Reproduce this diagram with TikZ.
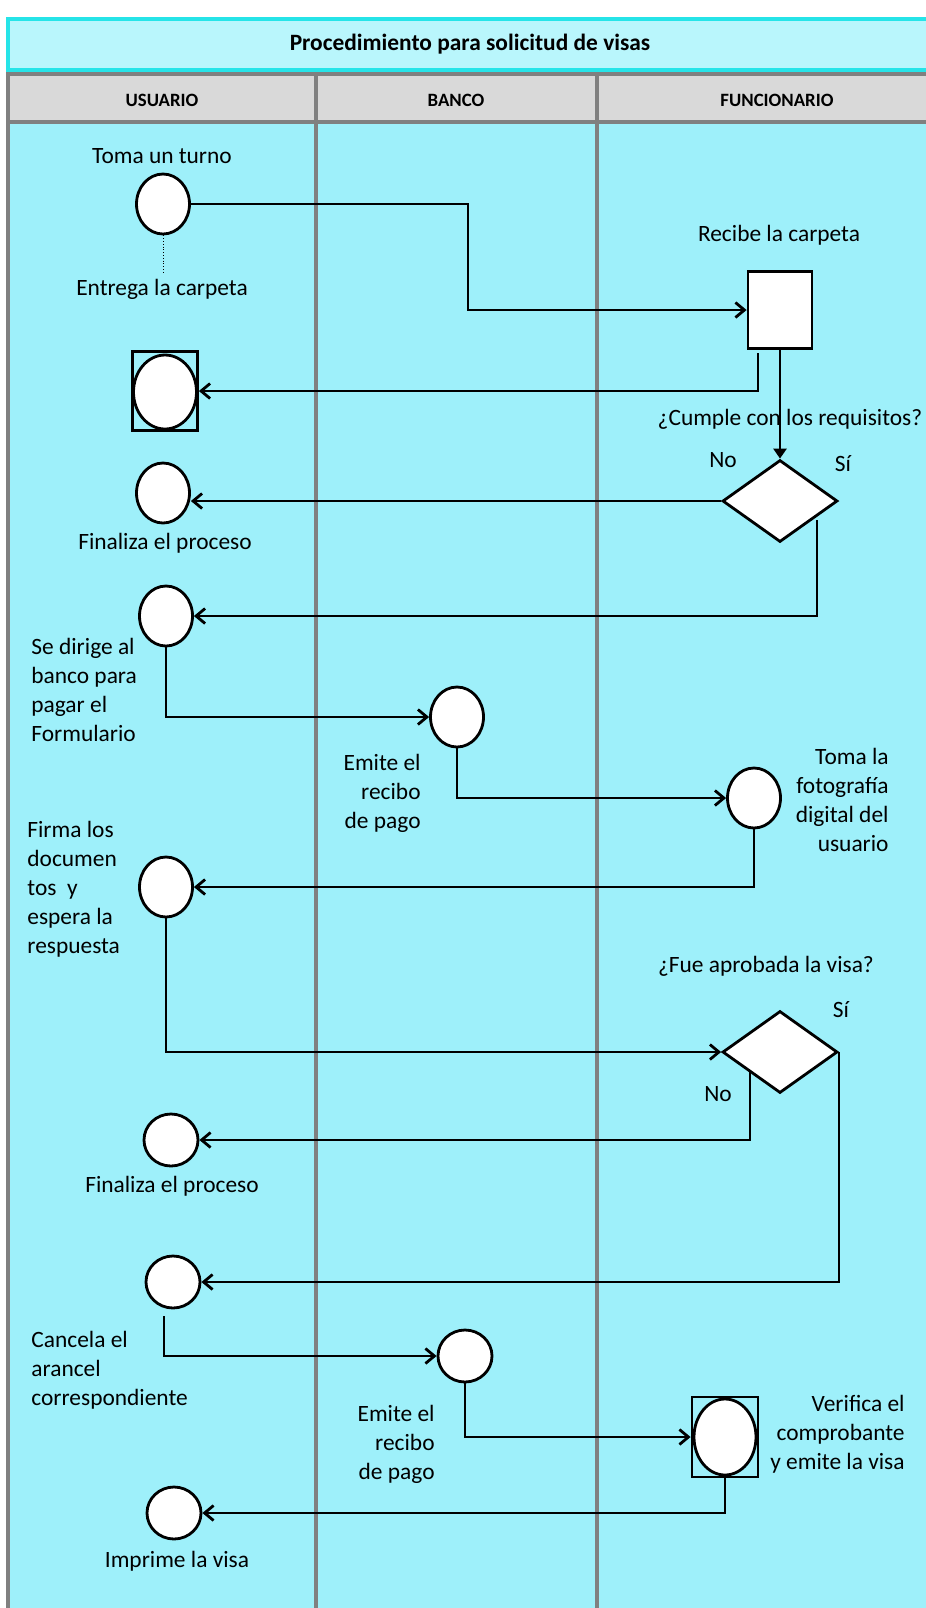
\documentclass[tikz,border=0pt]{standalone}
\usepackage{fontspec}
\setmainfont{Carlito}
\usetikzlibrary{shapes.geometric,arrows.meta}
\definecolor{lanecyan}{RGB}{158,240,250}
\definecolor{titlecyan}{RGB}{185,246,252}
\definecolor{titleline}{RGB}{38,228,232}
\definecolor{headgray}{RGB}{217,217,217}
\definecolor{lanegray}{RGB}{128,128,128}
\begin{document}
\begin{tikzpicture}[x=0.5pt,y=-0.5pt,
  act/.style={ellipse, draw, fill=white, line width=1.4pt, minimum width=26.5pt, minimum height=30pt, inner sep=0pt},
  actb/.style={act, minimum width=27pt, minimum height=26pt},
  doc/.style={rectangle, draw, fill=white, line width=1.4pt, minimum width=32pt, minimum height=38.5pt, inner sep=0pt},
  frame/.style={rectangle, draw, line width=1.4pt, minimum width=32.5pt, minimum height=39.5pt, inner sep=0pt},
  dec/.style={diamond, draw, fill=white, line width=1.4pt, minimum width=57.5pt, minimum height=41pt, inner sep=0pt},
  lbl/.style={inner sep=0pt, font=\fontsize{11.7}{14.5}\selectfont},
  head/.style={inner sep=0pt, font=\fontsize{9.4}{11}\selectfont\bfseries},
  lane/.style={line width=2pt, lanegray},
  flow/.style={line width=1.4pt, -{Straight Barb[length=4.5pt,width=7.5pt]}},
  flowd/.style={line width=1.4pt, -{Triangle[length=5pt,width=6.5pt]}},
  dotline/.style={line width=0.4pt, densely dotted}]
\clip (0,0) rectangle (926,1608);
\fill[white] (0,0) rectangle (926,1608);
\fill[lanecyan] (8,122) rectangle (960,1620);
\draw[line width=2.2pt, titleline, fill=titlecyan] (8,19) rectangle (960,70);
\draw[lane, fill=headgray] (8,74) rectangle (960,122);
\foreach \x in {8,316,597}
  \draw[lane] (\x,74) -- (\x,1620);
\node[inner sep=0pt, font=\fontsize{11.7}{14}\selectfont\bfseries] (title) at (470,44) {Procedimiento para solicitud de visas};
\node[head] (h1) at (162,100) {USUARIO};
\node[head] (h2) at (456,100) {BANCO};
\node[head] (h3) at (777,100) {FUNCIONARIO};

\node[lbl] (t1) at (162,156) {Toma un turno};
\node[act] (c1) at (163,204) {};
\coordinate (c1d) at (163,272);
\node[lbl] (t2) at (162,289) {Entrega la carpeta};
\node[lbl] (t3) at (779,235) {Recibe la carpeta};
\node[doc] (r1) at (780,310) {};
\node[frame] (b2) at (165,391) {};
\node[act, minimum width=31.5pt, minimum height=37pt] (b2e) at (165,392) {};
\node[lbl] (q1) at (790,419) {¿Cumple con los requisitos?};
\node[dec] (d1) at (780,501) {};
\node[lbl] (n1) at (723,460) {No};
\node[lbl] (s1) at (843,464) {Sí};
\node[act] (c3) at (163,493) {};
\node[lbl] (t4) at (165,543) {Finaliza el proceso};
\node[act] (c4) at (166,616) {};
\node[lbl, anchor=west, align=left] (t5) at (31,690) {Se dirige al\\banco para\\pagar el\\Formulario};
\node[act] (c5) at (457,717) {};
\node[lbl, anchor=east, align=right] (t6) at (421,793) {Emite el\\recibo\\de pago};
\node[act] (c6) at (754,798) {};
\node[lbl, anchor=east, align=right] (t7) at (889,800) {Toma la\\fotografía\\digital del\\usuario};
\node[act] (c7) at (166,887) {};
\node[lbl, anchor=west, align=left] (t8) at (27,889) {Firma los\\documen\\tos\ \ y\\espera la\\respuesta};
\node[lbl] (q2) at (766,966) {¿Fue aprobada la visa?};
\node[dec] (d2) at (780,1052) {};
\node[lbl] (s2) at (841,1010) {Sí};
\node[lbl] (n2) at (718,1094) {No};
\node[actb] (c8) at (171,1140) {};
\node[lbl] (t9) at (172,1186) {Finaliza el proceso};
\node[actb] (c9) at (173,1282) {};
\node[lbl, anchor=west, align=left] (t10) at (31,1370) {Cancela el\\arancel\\correspondiente};
\node[actb] (c10) at (465,1356) {};
\node[lbl, anchor=east, align=right] (t11) at (435,1444) {Emite el\\recibo\\de pago};
\node[frame, minimum width=33pt, minimum height=40pt] (b11) at (725,1437) {};
\node[act, minimum width=31pt, minimum height=38pt] (b11e) at (725,1437) {};
\node[lbl, anchor=east, align=right] (t12) at (905,1434) {Verifica el\\comprobante\\y emite la visa};
\node[actb] (c12) at (174,1513) {};
\node[lbl] (t13) at (177,1561) {Imprime la visa};

\coordinate (k1) at (468,310);
\coordinate (r1a) at (758,353);
\coordinate (d1a) at (817,520);
\coordinate (d2a) at (750,1072);
\coordinate (c9a) at (164,1316);
\draw[dotline] (c1.south) -- (c1d);
\draw[flow] (c1.east) -| (k1) -- (r1.west);
\draw[flow] (r1a) |- (b2.east);
\draw[flowd] (r1.south) -- (d1.north);
\draw[flow] (d1.west) -- (d1.west -| c3.east);
\draw[flow] (d1a) |- (c4.east);
\draw[flow] (c4.south) |- (c5.west);
\draw[flow] (c5.south) |- (c6.west);
\draw[flow] (c6.south) |- (c7.east);
\draw[flow] (c7.south) |- (d2.west);
\draw[flow] (d2a) |- (c8.east);
\draw[flow] (d2.east) |- (c9.east);
\draw[flow] (c9a) |- (c10.west);
\draw[flow] (c10.south) |- (b11.west);
\draw[flow] (b11.south) |- (c12.east);
\end{tikzpicture}
\end{document}
